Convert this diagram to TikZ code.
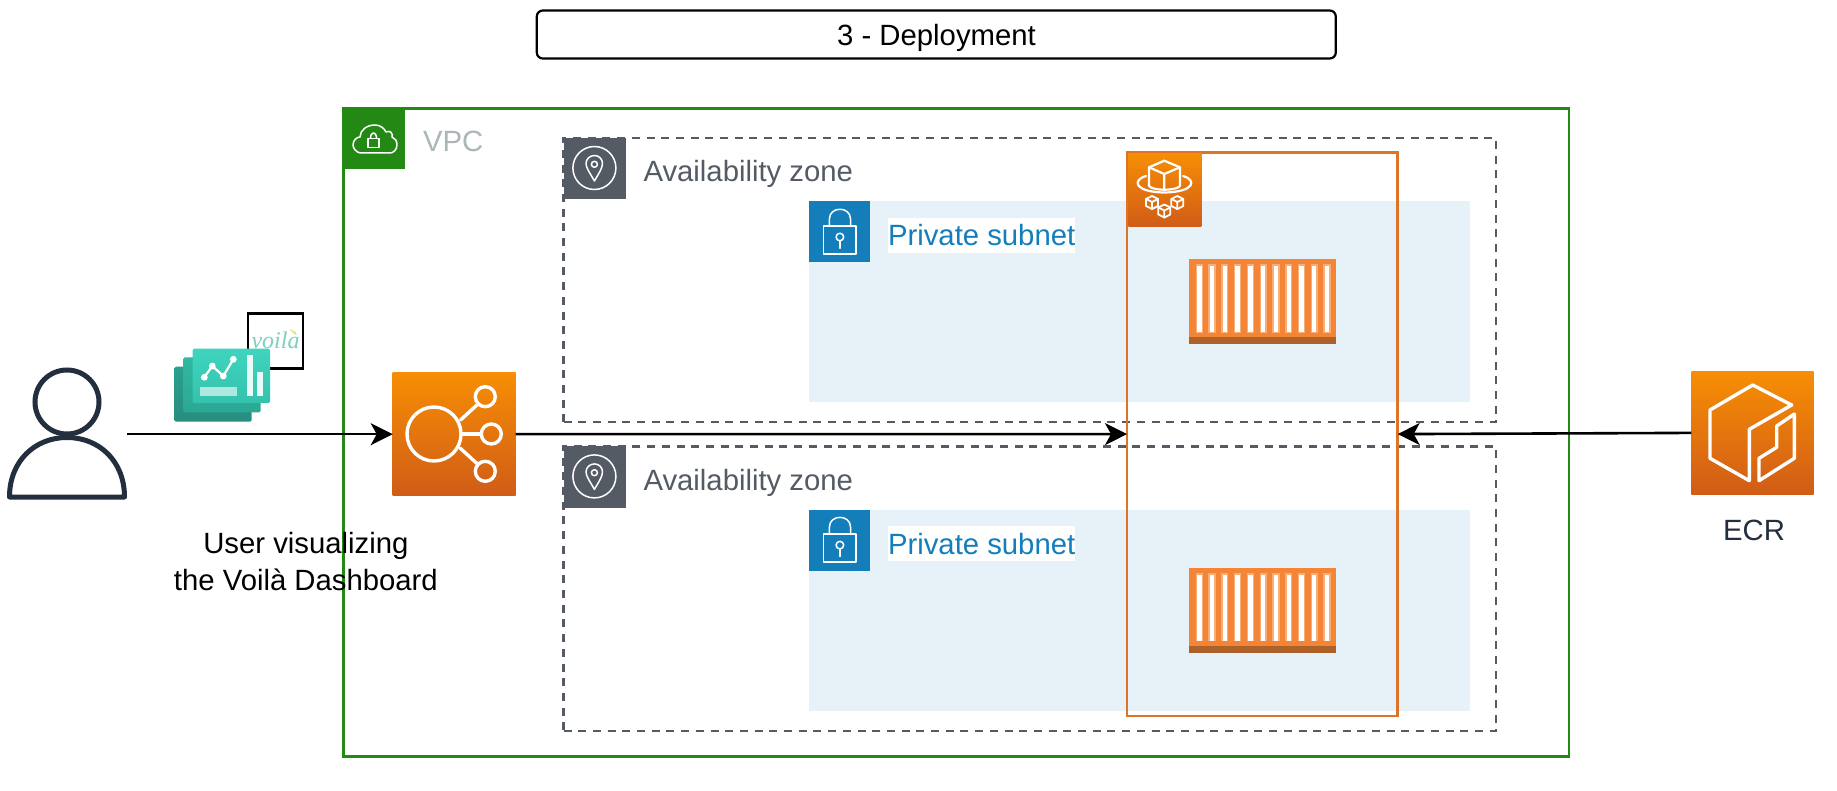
\documentclass[tikz,border=0pt]{standalone}
\usepackage{fontspec}
\setmainfont{Liberation Sans}
\newfontfamily\voilafont{Liberation Serif}
\usetikzlibrary{arrows.meta}
\definecolor{vpcgreen}{HTML}{248814}
\definecolor{vpcgrey}{HTML}{AAB7B8}
\definecolor{azgrey}{HTML}{545B64}
\definecolor{subblue}{HTML}{147EBA}
\definecolor{subfill}{HTML}{E6F2F8}
\definecolor{awsdark}{HTML}{232F3E}
\definecolor{fargline}{HTML}{DD7428}
\definecolor{ctrorange}{HTML}{F58536}
\definecolor{ctrbase}{HTML}{AD6027}
\definecolor{ctrhalo}{HTML}{F9AE78}
\definecolor{awstop}{HTML}{F78E04}
\definecolor{awsbot}{HTML}{D05C17}
\definecolor{dashA}{HTML}{3FD4BE}
\definecolor{dashAb}{HTML}{35C2AD}
\definecolor{dashB}{HTML}{2FB8A3}
\definecolor{dashBb}{HTML}{2CA895}
\definecolor{dashC}{HTML}{2BA08F}
\definecolor{dashCb}{HTML}{288D7F}
\definecolor{voilateal}{HTML}{7ECFC0}
\definecolor{voilayel}{HTML}{F5E27A}
\tikzset{
  x=1pt,y=-1pt,
  every node/.style={inner sep=0pt,outer sep=0pt,font=\fontsize{29.3}{36}\selectfont},
  area/.style={anchor=north west,rectangle},
  vpcbox/.style={area,draw=vpcgreen,line width=2.6pt},
  azbox/.style={area,draw=azgrey,line width=2.4pt,dash pattern=on 8pt off 6.7pt},
  subbox/.style={area,fill=subfill},
  fargbox/.style={area,draw=fargline,line width=2.8pt},
  awsicon/.style={area,top color=awstop,bottom color=awsbot},
  glyph/.style={draw=white,line width=3.4pt,line join=round,line cap=round},
  thin glyph/.style={draw=white,line width=1.5pt,line join=round,line cap=round},
  flow/.style={draw=black,line width=2.6pt,-{Stealth[length=22pt,width=22pt,inset=6pt]}},
  ctrbody/.style={area,fill=ctrorange},
  lbl/.style={anchor=base west},
}
\newcommand{\ministack}[2]{%
  \begin{scope}[shift={(#1,#2)},thin glyph,line width=1.8pt]
    \draw (-6,-3.5) -- (0,-6.5) -- (6,-3.5) -- (6,3.5) -- (0,6.5) -- (-6,3.5) -- cycle;
    \draw (-6,-3.5) -- (0,-0.5) -- (6,-3.5) (0,-0.5) -- (0,6.5);
  \end{scope}}
\newcommand{\ctrstripes}[2]{%
  \foreach \i in {0,...,10}{
    \fill[ctrhalo] ({#1+7.3+12.77*\i-0.6},{#2+5}) rectangle ({#1+7.3+12.77*\i+6.6},{#2+73.3});
    \fill[white] ({#1+7.3+12.77*\i+0.8},{#2+6.5}) rectangle ({#1+7.3+12.77*\i+5.2},{#2+73});
  }}
\newcommand{\azpin}[1]{%
  \begin{scope}[shift={(0,#1)}]
    \draw[thin glyph] (594.4,168) circle (21.5);
    \draw[thin glyph] (594.4,181) .. controls (590,173) and (586,168) .. (586,163.5)
      .. controls (586,159) and (590,155.5) .. (594.4,155.5)
      .. controls (599,155.5) and (602.5,159) .. (602.5,163.5)
      .. controls (602.5,168) and (599,173) .. (594.4,181) -- cycle;
    \draw[thin glyph] (594.4,164.3) circle (3);
  \end{scope}}
\newcommand{\sublock}[1]{%
  \begin{scope}[shift={(0,#1)}]
    \draw[thin glyph] (823.7,226) rectangle (856.2,254);
    \draw[thin glyph] (829.4,226) -- (829.4,219) .. controls (829.4,206) and (850.5,206) .. (850.5,219) -- (850.5,226);
    \draw[thin glyph] (839.9,237) circle (3.8);
    \draw[thin glyph] (839.9,240.8) -- (839.9,248.3);
  \end{scope}}
\begin{document}
\begin{tikzpicture}
\useasboundingbox (0,0) rectangle (1837,791);
\fill[white] (0,0) rectangle (1837,791);

% title
\node[area,draw=black,line width=2.2pt,rounded corners=6pt,minimum width=799pt,minimum height=48pt] (title) at (536.8,10.5) {};
\node[anchor=base] (titletext) at (936.5,46) {3 - Deployment};

% VPC
\node[vpcbox,minimum width=1225.5pt,minimum height=648pt] (vpc) at (343.3,108.7) {};
\node[area,fill=vpcgreen,minimum width=61.5pt,minimum height=61.5pt] (vpcicon) at (343,108) {};
\draw[thin glyph] (362,153) .. controls (355,153) and (353,147) .. (353,145)
  .. controls (353,140) and (357,137) .. (360,137)
  .. controls (360,130) and (367,125) .. (375,125)
  .. controls (380,125) and (384,128) .. (386,132)
  .. controls (390,130) and (393,133) .. (392,137)
  .. controls (395,138) and (397,141) .. (397,145)
  .. controls (397,150) and (393,153) .. (390,153) -- cycle;
\draw[thin glyph] (368,138.5) rectangle (379,147.3);
\draw[thin glyph] (370.5,138.5) .. controls (370.5,131) and (376.5,131) .. (376.5,138.5);
\node[lbl,text=vpcgrey] (vpclabel) at (423,151.7) {VPC};

% availability zones
\node[azbox,minimum width=932.5pt,minimum height=284pt] (az1) at (563.5,138) {};
\node[area,fill=azgrey,minimum width=62pt,minimum height=61.5pt] (az1icon) at (563.5,138) {};
\azpin{0}
\node[lbl,text=azgrey] (az1label) at (643.5,181.7) {Availability zone};

\node[azbox,minimum width=932.5pt,minimum height=284.6pt] (az2) at (563.5,446.4) {};
\node[area,fill=azgrey,minimum width=62pt,minimum height=61.5pt] (az2icon) at (563.5,446.4) {};
\azpin{308.4}
\node[lbl,text=azgrey] (az2label) at (643.5,490.1) {Availability zone};

% private subnets
\node[subbox,minimum width=660.8pt,minimum height=200.5pt] (sub1) at (809.2,201.5) {};
\node[area,fill=subblue,minimum width=61pt,minimum height=61pt] (sub1icon) at (809.2,201.5) {};
\sublock{0}
\node[lbl,text=subblue,fill=white,text height=27.7pt,text depth=6.7pt] (sub1label) at (888,246) {Private subnet};

\node[subbox,minimum width=660.8pt,minimum height=201.5pt] (sub2) at (809.2,509.6) {};
\node[area,fill=subblue,minimum width=61pt,minimum height=61pt] (sub2icon) at (809.2,509.6) {};
\sublock{308.1}
\node[lbl,text=subblue,fill=white,text height=27.7pt,text depth=6.7pt] (sub2label) at (888,554.1) {Private subnet};

% containers
\node[ctrbody,minimum width=147pt,minimum height=85pt] (ctr1) at (1189,259.3) {};
\fill[ctrbase] (1189,336.8) rectangle (1336,344.3);
\ctrstripes{1189}{259.3}
\node[ctrbody,minimum width=147pt,minimum height=85pt] (ctr2) at (1189,568) {};
\fill[ctrbase] (1189,645.5) rectangle (1336,653);
\ctrstripes{1189}{568}

% fargate
\node[fargbox,minimum width=270.7pt,minimum height=563.6pt] (fargate) at (1127,152.3) {};
\node[awsicon,minimum width=73pt,minimum height=73pt] (fargicon) at (1128.3,153.2) {};
\begin{scope}[glyph,line width=2.2pt]
  \draw (1164.3,160.7) -- (1180,167.3) -- (1180,186) .. controls (1176,191) and (1153,191) .. (1149,186) -- (1149,167.3) -- cycle;
  \draw (1149,167.3) -- (1164.3,174) -- (1180,167.3) (1164.3,174) -- (1164.3,190);
  \draw (1146,176) .. controls (1132,180) and (1134,192) .. (1164.3,192.5) .. controls (1195,192) and (1197,180) .. (1183,176);
\end{scope}
\ministack{1152}{202.5}
\ministack{1164.3}{211}
\ministack{1177.3}{202.5}

% load balancer
\node[awsicon,minimum width=123pt,minimum height=123pt] (elb) at (392.7,372.7) {};
\begin{scope}[glyph]
  \draw (434,434) circle (27);
  \draw (485.3,396.7) circle (10);
  \draw (491.3,434) circle (10);
  \draw (485.3,471.3) circle (10);
  \draw (460.5,420) -- (477.5,404.5);
  \draw (462.5,434) -- (480,434);
  \draw (460,448) -- (477.5,464);
\end{scope}

% ECR
\node[awsicon,minimum width=122.4pt,minimum height=122.4pt] (ecr) at (1691.3,371.7) {};
\begin{scope}[glyph]
  \draw (1752.7,385) -- (1791.7,405) -- (1749.3,429.3) -- (1749.3,480.7) -- (1710,458.3) -- (1710,410) -- cycle;
  \draw (1794.3,414) -- (1794.3,458.3) -- (1759,480.7) -- (1759,458.3) -- (1776.7,447.3) -- (1776.7,426) -- cycle;
\end{scope}
\node[anchor=base,text=awsdark] (ecrlabel) at (1754,540) {ECR};

% user
\draw[awsdark,line width=5pt] (67,402) circle (32);
\draw[awsdark,line width=5pt,line join=round] (9.5,497) .. controls (9.5,461) and (35,437.5) .. (67,437.5) .. controls (99,437.5) and (124.5,461) .. (124.5,497) -- cycle;
\coordinate (userout) at (127,434.2);
\node[anchor=base] (userl1) at (305.9,553) {User visualizing};
\node[anchor=base] (userl2) at (305.9,590.7) {the Voilà Dashboard};

% voila logo
\node[area,fill=white,draw=black,line width=2.2pt,minimum width=55pt,minimum height=55pt] (voilabox) at (248,313.5) {};
\node[anchor=center,text=voilateal,font=\voilafont\itshape\fontsize{24}{28}\selectfont] (voilatext) at (275.5,340.5) {voilà};
\draw[voilayel,line width=1.6pt,line cap=round] (291,330) -- (295,333.5);

% dashboard cards
\shade[top color=dashC,bottom color=dashCb,rounded corners=1.5pt] (174.3,366.7) rectangle (251.7,421.7);
\shade[top color=dashB,bottom color=dashBb,rounded corners=1.5pt] (183.3,357.3) rectangle (260.7,412.3);
\shade[top color=dashA,bottom color=dashAb,rounded corners=1.5pt] (192.7,348.7) rectangle (270,403);
\draw[white,line width=2.2pt,line join=round] (204.3,377.3) -- (212.3,366) -- (223.3,376) -- (233.3,359.3);
\foreach \p in {(204.3,377.3),(212.3,366),(223.3,376),(233.3,359.3)}{\fill[white] \p circle (3.4);}
\fill[white,opacity=.9] (246.7,355) rectangle (253,395.7);
\fill[white,opacity=.9] (256.7,371.7) rectangle (263,395.7);
\fill[white,opacity=.6] (200,387.3) rectangle (236.7,395.7);

% connectors
\draw[flow] (userout) -- (elb.west);
\draw[flow] (elb.east) -- (fargate.west);
\draw[flow] (ecr.west) -- (fargate.east);
\end{tikzpicture}
\end{document}
